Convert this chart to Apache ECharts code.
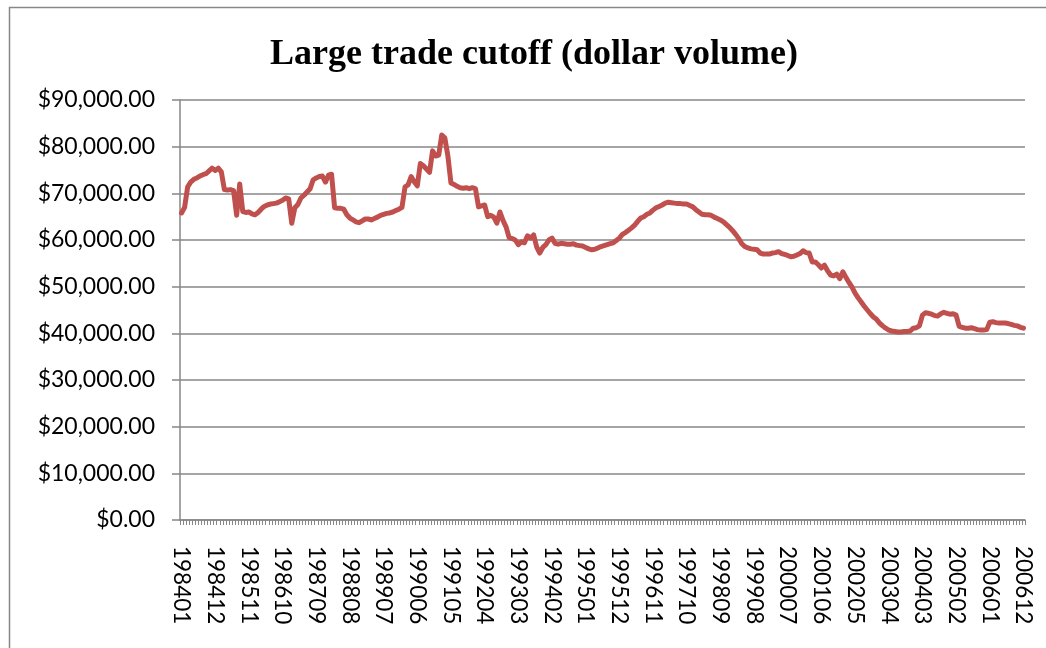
<!DOCTYPE html>
<html>
<head>
<meta charset="utf-8">
<script src="https://cdn.jsdelivr.net/npm/echarts@6/dist/echarts.min.js"></script>
<style>
  html, body { margin: 0; padding: 0; background: #ffffff; }
  #chart { width: 1046px; height: 648px; }
</style>
</head>
<body>
<div id="chart"></div>
<script>
// Monthly cutoff for a "large" trade, in dollars, Jan 1984 - Dec 2006.
const startYear = 1984;
const endYear = 2006;

const cutoff1984 = [65800, 67000, 71400, 72400, 73000, 73300, 73700, 74000, 74200, 74800, 75400, 74900];
const cutoff1985 = [75400, 74600, 70800, 70700, 70800, 70600, 65300, 72000, 66100, 65900, 66000, 65600];
const cutoff1986 = [65400, 65900, 66600, 67200, 67500, 67700, 67800, 67900, 68200, 68500, 69000, 68800];
const cutoff1987 = [63600, 66900, 67600, 69000, 69600, 70300, 71000, 72900, 73300, 73600, 73700, 72400];
const cutoff1988 = [73900, 74100, 66900, 66800, 66800, 66600, 65400, 64700, 64300, 63900, 63700, 64100];
const cutoff1989 = [64500, 64500, 64300, 64600, 64900, 65300, 65500, 65700, 65800, 66000, 66300, 66600];
const cutoff1990 = [67000, 71400, 71800, 73600, 72500, 71600, 76400, 75900, 75200, 74500, 79100, 78000];
const cutoff1991 = [78200, 82500, 81900, 78000, 72200, 71900, 71500, 71200, 71100, 71200, 71000, 71200];
const cutoff1992 = [71000, 67100, 67300, 67500, 65000, 65300, 64900, 63600, 66000, 64200, 62800, 60500];
const cutoff1993 = [60300, 60000, 59000, 59600, 59400, 60900, 60400, 61100, 58500, 57200, 58400, 59000];
const cutoff1994 = [60000, 60400, 59300, 59100, 59300, 59200, 59100, 59100, 59200, 58900, 58800, 58700];
const cutoff1995 = [58400, 58100, 57900, 58000, 58300, 58600, 58800, 59000, 59200, 59400, 59900, 60400];
const cutoff1996 = [61200, 61600, 62100, 62600, 63200, 64000, 64700, 65000, 65500, 65800, 66400, 66900];
const cutoff1997 = [67200, 67500, 67900, 68100, 68000, 67900, 67800, 67800, 67700, 67700, 67400, 67100];
const cutoff1998 = [66500, 66000, 65500, 65400, 65400, 65300, 64900, 64600, 64300, 63900, 63300, 62700];
const cutoff1999 = [62000, 61200, 60300, 59200, 58600, 58300, 58100, 58000, 57900, 57200, 57000, 57000];
const cutoff2000 = [57000, 57200, 57300, 57500, 57100, 56900, 56700, 56400, 56500, 56800, 57100, 57700];
const cutoff2001 = [57300, 57200, 55300, 55300, 54700, 54000, 54600, 53400, 52500, 52300, 52700, 51700];
const cutoff2002 = [53200, 52000, 50900, 49900, 48600, 47600, 46700, 45800, 45000, 44200, 43500, 43000];
const cutoff2003 = [42200, 41600, 41100, 40700, 40500, 40400, 40300, 40300, 40400, 40400, 40500, 41100];
const cutoff2004 = [41200, 41600, 43900, 44400, 44300, 44100, 43800, 43700, 44200, 44500, 44300, 44100];
const cutoff2005 = [44200, 43900, 41500, 41300, 41100, 41100, 41200, 41000, 40800, 40700, 40700, 40800];
const cutoff2006 = [42400, 42500, 42300, 42200, 42200, 42200, 42100, 41900, 41700, 41600, 41300, 41100];

const yTicks = [0, 10000, 20000, 30000, 40000, 50000, 60000, 70000, 80000, 90000];

const cutoffValues = [].concat(
  cutoff1984, cutoff1985, cutoff1986, cutoff1987, cutoff1988, cutoff1989,
  cutoff1990, cutoff1991, cutoff1992, cutoff1993, cutoff1994, cutoff1995,
  cutoff1996, cutoff1997, cutoff1998, cutoff1999, cutoff2000, cutoff2001,
  cutoff2002, cutoff2003, cutoff2004, cutoff2005, cutoff2006
);

// Category labels in YYYYMM form
const months = [];
for (let y = startYear; y <= endYear; y++) {
  for (let m = 1; m <= 12; m++) {
    months.push(String(y) + (m < 10 ? '0' + m : String(m)));
  }
}

function dollars(v) {
  return '$' + v.toLocaleString('en-US', { minimumFractionDigits: 2, maximumFractionDigits: 2 });
}

const axisGray = '#878787';
const labelFont = 'Lato, "Open Sans", sans-serif';

const chart = echarts.init(document.getElementById('chart'), null, { renderer: 'canvas' });
chart.setOption({
  animation: false,
  backgroundColor: '#ffffff',
  title: {
    text: 'Large trade cutoff (dollar volume)',
    left: 529,
    top: 32,
    textAlign: 'center',
    textStyle: {
      fontFamily: '"Liberation Serif", "Times New Roman", serif',
      fontWeight: 'bold',
      fontSize: 36,
      color: '#000000'
    }
  },
  graphic: [{
    type: 'rect',
    shape: { x: 9.5, y: 7.5, width: 1200, height: 800 },
    style: { fill: 'none', stroke: axisGray, lineWidth: 1.5 },
    silent: true,
    z: -1
  }],
  grid: { left: 180, right: 21, top: 100, bottom: 128, containLabel: false },
  xAxis: {
    type: 'category',
    data: months,
    boundaryGap: true,
    axisLine: { show: true, lineStyle: { color: axisGray, width: 1.5 } },
    axisTick: { show: true, interval: 0, length: 5, inside: false, lineStyle: { color: axisGray, width: 1 } },
    axisLabel: {
      interval: 10,
      rotate: -90,
      margin: 26,
      fontFamily: labelFont,
      fontSize: 22.5,
      color: '#000000'
    },
    splitLine: { show: false }
  },
  yAxis: {
    type: 'value',
    min: yTicks[0],
    max: yTicks[yTicks.length - 1],
    interval: yTicks[1] - yTicks[0],
    axisLine: { show: true, lineStyle: { color: axisGray, width: 1.5 } },
    axisTick: { show: true, length: 8, inside: false, lineStyle: { color: axisGray, width: 1.5 } },
    axisLabel: {
      margin: 25,
      formatter: dollars,
      fontFamily: labelFont,
      fontSize: 23,
      color: '#000000'
    },
    splitLine: { show: true, lineStyle: { color: axisGray, width: 1.5 } }
  },
  series: [{
    name: 'Large trade cutoff',
    type: 'line',
    data: cutoffValues,
    showSymbol: false,
    symbol: 'none',
    smooth: false,
    lineStyle: { color: '#C0504D', width: 5, join: 'round', cap: 'round' },
    itemStyle: { color: '#C0504D' }
  }]
});
</script>
</body>
</html>
